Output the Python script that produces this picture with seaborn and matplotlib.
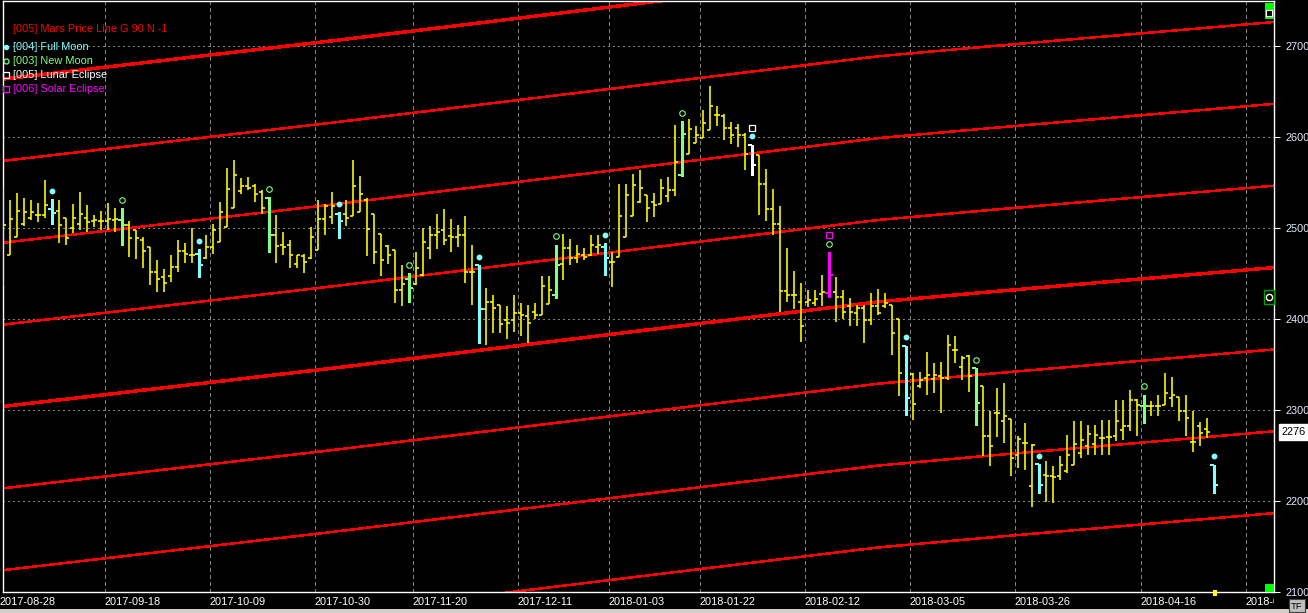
import numpy as np
import pandas as pd
import matplotlib
matplotlib.use("Agg")
import matplotlib.pyplot as plt
import seaborn as sns
from matplotlib.lines import Line2D
from matplotlib.patches import Rectangle

# Values --------------------------------------------------------------------
date_labels = ["2017-08-28", "2017-09-18", "2017-10-09", "2017-10-30",
               "2017-11-20", "2017-12-11", "2018-01-03", "2018-01-22",
               "2018-02-12", "2018-03-05", "2018-03-26", "2018-04-16",
               "2018-05-07"]
date_bars = [0, 15, 30, 45, 59, 74, 87, 100, 115, 130, 145, 163, 178]

opens = [2438, 2470, 2490, 2505, 2511, 2515, 2515, 2521, 2519, 2511,
         2500, 2505, 2511, 2508, 2508, 2508, 2509, 2509, 2504, 2498,
         2487, 2479, 2452, 2446, 2447, 2457, 2475, 2471, 2472, 2467,
         2479, 2485, 2501, 2522, 2541, 2546, 2546, 2540, 2533, 2493,
         2482, 2482, 2461, 2469, 2467, 2476, 2510, 2512, 2516, 2516,
         2513, 2518, 2531, 2516, 2494, 2480, 2476, 2432, 2444, 2439,
         2449, 2478, 2493, 2498, 2491, 2490, 2493, 2452, 2459, 2411,
         2419, 2416, 2399, 2399, 2407, 2404, 2408, 2405, 2417, 2426,
         2461, 2478, 2467, 2470, 2470, 2479, 2479, 2463, 2468, 2490,
         2513, 2529, 2537, 2529, 2527, 2535, 2542, 2558, 2582, 2594,
         2599, 2608, 2624, 2623, 2610, 2610, 2603, 2592, 2581, 2549,
         2521, 2505, 2431, 2427, 2419, 2419, 2418, 2428, 2429, 2430,
         2424, 2414, 2407, 2412, 2399, 2414, 2414, 2416, 2400, 2371,
         2340, 2327, 2335, 2334, 2337, 2335, 2366, 2347, 2360, 2346,
         2327, 2272, 2297, 2288, 2290, 2251, 2264, 2216, 2241, 2229,
         2227, 2227, 2233, 2240, 2253, 2261, 2263, 2269, 2270, 2271,
         2278, 2283, 2311, 2305, 2305, 2304, 2306, 2313, 2314, 2299,
         2265, 2282, 2279, 2240]
highs = [2545, 2531, 2539, 2533, 2531, 2528, 2553, 2532, 2531, 2511,
         2527, 2540, 2526, 2515, 2519, 2528, 2522, 2522, 2508, 2498,
         2490, 2479, 2465, 2455, 2471, 2487, 2484, 2500, 2477, 2493,
         2505, 2529, 2566, 2575, 2555, 2556, 2549, 2542, 2534, 2515,
         2496, 2487, 2471, 2472, 2501, 2531, 2527, 2540, 2518, 2531,
         2575, 2557, 2533, 2516, 2494, 2482, 2476, 2460, 2451, 2474,
         2500, 2502, 2516, 2521, 2510, 2504, 2513, 2482, 2459, 2434,
         2427, 2416, 2414, 2427, 2418, 2416, 2418, 2447, 2447, 2482,
         2494, 2488, 2482, 2478, 2493, 2492, 2484, 2474, 2549, 2549,
         2560, 2564, 2537, 2539, 2554, 2556, 2613, 2618, 2620, 2612,
         2630, 2656, 2634, 2626, 2617, 2615, 2605, 2592, 2581, 2565,
         2543, 2524, 2478, 2453, 2440, 2432, 2432, 2449, 2474, 2446,
         2432, 2423, 2416, 2416, 2429, 2433, 2429, 2416, 2400, 2371,
         2341, 2342, 2364, 2352, 2353, 2383, 2382, 2360, 2361, 2346,
         2327, 2299, 2324, 2330, 2290, 2271, 2286, 2263, 2241, 2244,
         2238, 2250, 2273, 2288, 2288, 2284, 2284, 2289, 2289, 2311,
         2311, 2322, 2312, 2317, 2310, 2317, 2341, 2336, 2314, 2317,
         2299, 2287, 2291, 2240]
lows = [2436, 2470, 2490, 2502, 2509, 2507, 2511, 2505, 2484, 2481,
        2495, 2498, 2496, 2501, 2498, 2498, 2496, 2482, 2468, 2466,
        2456, 2438, 2430, 2430, 2441, 2452, 2462, 2462, 2446, 2466,
        2472, 2485, 2501, 2522, 2538, 2542, 2529, 2516, 2474, 2462,
        2470, 2456, 2456, 2451, 2466, 2476, 2493, 2505, 2489, 2502,
        2513, 2518, 2469, 2461, 2447, 2461, 2418, 2415, 2419, 2438,
        2447, 2466, 2477, 2481, 2474, 2479, 2440, 2416, 2374, 2372,
        2385, 2385, 2378, 2386, 2381, 2374, 2400, 2405, 2417, 2423,
        2443, 2460, 2462, 2465, 2469, 2472, 2449, 2435, 2468, 2490,
        2513, 2528, 2507, 2512, 2527, 2529, 2535, 2557, 2582, 2594,
        2599, 2608, 2612, 2597, 2593, 2589, 2564, 2559, 2515, 2508,
        2493, 2408, 2419, 2411, 2375, 2413, 2414, 2415, 2424, 2397,
        2400, 2393, 2392, 2374, 2394, 2405, 2412, 2361, 2315, 2295,
        2289, 2324, 2317, 2319, 2297, 2333, 2352, 2333, 2320, 2284,
        2250, 2238, 2270, 2264, 2227, 2236, 2234, 2194, 2209, 2199,
        2198, 2223, 2231, 2240, 2247, 2251, 2251, 2251, 2251, 2266,
        2267, 2277, 2271, 2286, 2293, 2293, 2306, 2303, 2288, 2271,
        2254, 2261, 2269, 2209]
closes = [2504, 2510, 2519, 2518, 2518, 2515, 2526, 2517, 2504, 2489,
          2511, 2516, 2507, 2509, 2508, 2510, 2510, 2504, 2489, 2489,
          2475, 2452, 2444, 2440, 2457, 2475, 2472, 2471, 2460, 2479,
          2498, 2518, 2543, 2559, 2546, 2544, 2538, 2522, 2493, 2480,
          2479, 2471, 2470, 2463, 2490, 2510, 2524, 2524, 2508, 2511,
          2546, 2538, 2499, 2474, 2465, 2470, 2432, 2439, 2434, 2456,
          2485, 2492, 2496, 2487, 2490, 2492, 2452, 2452, 2411, 2419,
          2412, 2395, 2396, 2407, 2405, 2396, 2405, 2436, 2432, 2460,
          2478, 2467, 2472, 2468, 2482, 2482, 2467, 2463, 2513, 2536,
          2548, 2544, 2522, 2525, 2544, 2542, 2573, 2604, 2609, 2603,
          2616, 2634, 2624, 2610, 2603, 2603, 2582, 2570, 2549, 2521,
          2505, 2431, 2427, 2427, 2392, 2421, 2422, 2430, 2449, 2424,
          2408, 2408, 2412, 2399, 2414, 2407, 2418, 2385, 2341, 2313,
          2307, 2333, 2339, 2339, 2335, 2372, 2366, 2357, 2337, 2308,
          2272, 2261, 2297, 2293, 2247, 2268, 2264, 2262, 2218, 2227,
          2226, 2240, 2251, 2263, 2267, 2274, 2273, 2269, 2270, 2288,
          2283, 2311, 2306, 2305, 2305, 2305, 2319, 2317, 2299, 2291,
          2265, 2275, 2276, 2218]
last_bar = 172  # last traded bar, its close goes in the price box

full_moon = [7, 28, 48, 68, 86, 107, 129, 148, 173]
new_moon = [17, 38, 58, 79, 97, 118, 139, 163]
lunar_eclipse = [107]
solar_eclipse = [118]

# Mars price line: base level at a few bars, plus 90 point harmonics
mars_bars = [0, 47, 94, 125, 141, 182]
mars_base = [2304, 2346, 2390, 2419, 2430, 2457]
mars_harmonics = [-3, -2, -1, 0, 1, 2, 3, 4]
mars_step = 90
mars_thick = [0, 4]

price_ticks = [2100, 2200, 2300, 2400, 2500, 2600, 2700]

# Colours / layout ------------------------------------------------------------
YELLOW = "#ffff00"
CYAN = "#80ffff"
GREEN = "#80ff80"
WHITE = "#ffffff"
MAGENTA = "#ff00ff"
RED = "#ff0000"
GRID = "#808080"
AXIS_TEXT = "#e2e9f8"

FIG_W, FIG_H = 1308, 613
BAR_PX = 7          # pixel spacing of the bars
PLOT_L, PLOT_R, PLOT_T, PLOT_B = 3, 1274, 1, 592
MARK_GAP = 9        # price gap between a bar's high and its event marker
PX = 0.72           # one pixel in points

sns.set_theme(style="dark", rc={"axes.facecolor": "black",
                                "figure.facecolor": "black",
                                "axes.edgecolor": "white",
                                "text.color": "white",
                                "axes.grid": False})
plt.rcParams['font.family'] = ['Liberation Sans', 'DejaVu Sans']
FS = 7.9


def px_box(x0, y0, x1, y1):
    # pixel corners (origin top left) -> figure fraction rect
    return [x0 / FIG_W, 1 - y1 / FIG_H, (x1 - x0) / FIG_W, (y1 - y0) / FIG_H]


def px_pt(x, y):
    return x / FIG_W, 1 - y / FIG_H


def px_rect(fig, x0, y0, x1, y1, **kw):
    b = px_box(x0, y0, x1, y1)
    fig.add_artist(Rectangle(b[:2], b[2], b[3], transform=fig.transFigure,
                             **kw))


def main():
    fig = plt.figure(figsize=(FIG_W / 100, FIG_H / 100), dpi=100)
    ax = fig.add_axes(px_box(PLOT_L, PLOT_T, PLOT_R, PLOT_B))
    xmax = (PLOT_R - PLOT_L) / BAR_PX

    # grid ---------------------------------------------------------------
    for p in price_ticks:
        ax.axhline(p, color=GRID, lw=PX, ls=(0, (2, 4)),
                   antialiased=False, zorder=1)
    for b in date_bars:
        ax.axvline(b - 0.5, color=GRID, lw=PX, ls=(0, (3, 3)),
                   antialiased=False, zorder=1)

    # Mars price lines ---------------------------------------------------
    rows = []
    for k in mars_harmonics:
        for b, v in zip(mars_bars, mars_base):
            rows.append(dict(bar=b, price=v + k * mars_step, harmonic=k,
                             thick=k in mars_thick))
    mars = pd.DataFrame(rows)
    sns.lineplot(data=mars[~mars.thick], x="bar", y="price", units="harmonic",
                 estimator=None, color=RED, lw=1.5 * PX, ax=ax, legend=False,
                 antialiased=False, zorder=2)
    sns.lineplot(data=mars[mars.thick], x="bar", y="price", units="harmonic",
                 estimator=None, color=RED, lw=2.4 * PX, ax=ax, legend=False,
                 antialiased=False, zorder=2)

    # OHLC bars ----------------------------------------------------------
    df = pd.DataFrame({"open": opens, "high": highs, "low": lows,
                       "close": closes})
    df["bar"] = np.arange(len(df))
    df["color"] = YELLOW
    df.loc[full_moon, "color"] = CYAN
    df.loc[new_moon, "color"] = GREEN
    df.loc[lunar_eclipse, "color"] = WHITE
    df.loc[solar_eclipse, "color"] = MAGENTA

    plain = df[df.color == YELLOW]
    bar_lw = 1.6 * PX
    ax.vlines(plain.bar, plain.low, plain.high, color=YELLOW, lw=bar_lw,
              zorder=3)
    ax.hlines(plain.open, plain.bar - 0.42, plain.bar, color=YELLOW,
              lw=bar_lw, zorder=3)
    ax.hlines(plain.close, plain.bar, plain.bar + 0.42, color=YELLOW,
              lw=bar_lw, zorder=3)

    ev = df[df.color != YELLOW]
    ax.vlines(ev.bar, ev.low, ev.high, color=ev.color, lw=3 * PX,
              antialiased=False, zorder=4)
    ax.hlines(ev.open, ev.bar - 0.6, ev.bar, color=ev.color, lw=2 * PX,
              antialiased=False, zorder=4)
    ax.hlines(ev.close, ev.bar, ev.bar + 0.6, color=ev.color, lw=2 * PX,
              antialiased=False, zorder=4)

    # event markers above the bars
    fm = df.loc[full_moon]
    ax.plot(fm.bar, fm.high + MARK_GAP, ls="none", marker="o", ms=3.2,
            color=CYAN, mec=CYAN, zorder=5)
    nm = df.loc[new_moon]
    ax.plot(nm.bar, nm.high + MARK_GAP, ls="none", marker="o", ms=4.0,
            mfc="none", mec=GREEN, mew=0.8, zorder=5)
    le = df.loc[lunar_eclipse]
    ax.plot(le.bar, le.high + 2 * MARK_GAP, ls="none", marker="s", ms=4.2,
            mfc="none", mec=WHITE, mew=0.9, zorder=5)
    se = df.loc[solar_eclipse]
    ax.plot(se.bar, se.high + 2 * MARK_GAP, ls="none", marker="s", ms=4.2,
            mfc="none", mec=MAGENTA, mew=0.9, zorder=5)

    # axes -----------------------------------------------------------------
    ax.set_xlim(0, xmax)
    ax.set_ylim(2100.3, 2749.8)
    ax.set_xlabel("")
    ax.set_ylabel("")
    ax.set_xticks([])
    ax.yaxis.tick_right()
    ax.set_yticks(price_ticks)
    ax.set_yticklabels([str(p) for p in price_ticks])
    ax.tick_params(axis="y", right=True, left=False, length=4, width=PX,
                   color="white", labelcolor=AXIS_TEXT, labelsize=FS, pad=4,
                   direction="out")
    for s in ax.spines.values():
        s.set_color("white")
        s.set_linewidth(1.0)

    # last price box
    ax.annotate(str(closes[last_bar]), xy=(1, closes[last_bar]),
                xycoords=("axes fraction", "data"), xytext=(8, 0),
                textcoords="offset pixels", ha="left", va="center",
                color="black", fontsize=FS, annotation_clip=False,
                bbox=dict(boxstyle="square,pad=0.3", fc="white", ec="white"))

    # date strip under the plot; the last date runs into the plot's edge
    dax = fig.add_axes(px_box(0, PLOT_B + 1, PLOT_R, 611))
    dax.set_xlim(-PLOT_L / BAR_PX, xmax)
    dax.set_ylim(0, 1)
    dax.axis("off")
    for b, lab in zip(date_bars, date_labels):
        if b > xmax - 6:
            lab = lab[:6]
        dax.text(b - 0.45, 0.5, lab, color="white", fontsize=FS,
                 ha="left", va="center", clip_on=True)

    # legend in the top left corner
    fig.text(*px_pt(13, 29), "[005] Mars Price Line G 90 N -1", color=RED,
             fontsize=FS, va="center")
    legend_items = [("[004] Full Moon", CYAN, "o", CYAN, 3.0),
                    ("[003] New Moon", GREEN, "o", "none", 3.6),
                    ("[005] Lunar Eclipse", WHITE, "s", "none", 4.0),
                    ("[006] Solar Eclipse", MAGENTA, "s", "none", 4.0)]
    for i, (lab, col, mk, fc, ms) in enumerate(legend_items):
        y = 47 + 14 * i
        fig.text(*px_pt(13, y), lab, color=col, fontsize=FS, va="center")
        x0, y0 = px_pt(6, y)
        fig.add_artist(Line2D([x0], [y0], ls="none", marker=mk, ms=ms,
                              mfc=fc, mec=col, mew=0.9, color=col,
                              transform=fig.transFigure))

    # small widgets of the charting program
    px_rect(fig, 1265, 3, 1274, 19, fc="#00ff00", ec="none")
    px_rect(fig, 1266, 10, 1272, 16, fc="black", ec="white", lw=0.8)
    px_rect(fig, 1264, 290, 1274, 304, fc="black", ec="#00a000", lw=1.0)
    cx, cy = px_pt(1269, 297)
    fig.add_artist(Line2D([cx], [cy], ls="none", marker="o", ms=4.5,
                          mfc="black", mec="white", mew=1.0,
                          transform=fig.transFigure))
    px_rect(fig, 1265, 584, 1274, 592, fc="#00ff00", ec="none")
    px_rect(fig, 1213, 590, 1217, 596, fc=YELLOW, ec="none")
    px_rect(fig, 0, 609, FIG_W, FIG_H, fc="#d4d0c8", ec="none")
    px_rect(fig, 1289, 599, 1305, 612, fc="#c0c0c0", ec="#404040", lw=0.8)
    fig.text(*px_pt(1297, 606.5), "TF", color="black", fontsize=6.8,
             ha="center", va="center")

    fig.savefig("out.png", dpi=100, facecolor="black")


if __name__ == '__main__':
    main()
